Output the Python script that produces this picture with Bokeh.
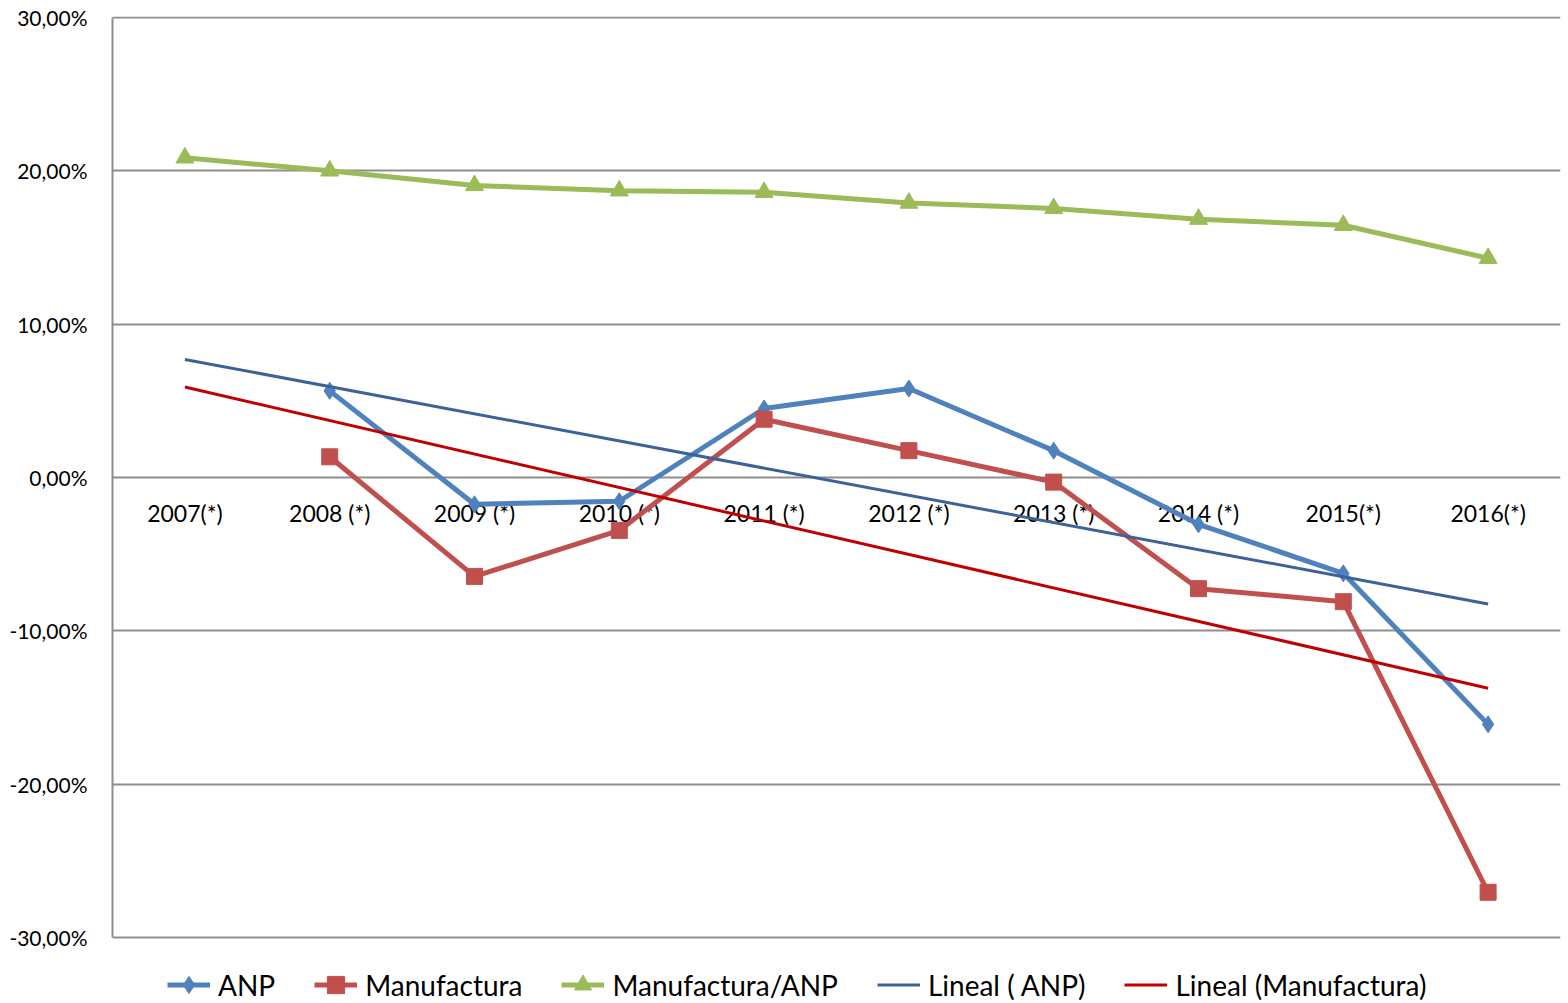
from bokeh.plotting import figure
from bokeh.models import Range1d, FactorRange, FixedTicker, Legend, LegendItem
from bokeh.core.properties import value
from bokeh.embed import file_html
from bokeh.resources import INLINE

# ---- data (percent) ----
years = ["2007(*)", "2008 (*)", "2009 (*)", "2010 (*)", "2011 (*)",
         "2012 (*)", "2013 (*)", "2014 (*)", "2015(*)", "2016(*)"]
anp_years = years[1:]
anp = [5.65, -1.75, -1.55, 4.5, 5.8, 1.75, -3.05, -6.25, -16.1]
manuf_years = years[1:]
manuf = [1.35, -6.45, -3.45, 3.8, 1.75, -0.3, -7.25, -8.1, -27.05]
ratio = [20.85, 20.0, 19.05, 18.7, 18.6, 17.9, 17.55, 16.85, 16.45, 14.3]
trend_years = [years[0], years[-1]]
trend_anp = [7.7, -8.25]
trend_manuf = [5.9, -13.75]
y_ticks = [-30, -20, -10, 0, 10, 20, 30]
y_labels = ["-30,00%", "-20,00%", "-10,00%", "0,00%", "10,00%", "20,00%", "30,00%"]
axis_cross = [0] * len(years)

FONT = "Lato"
GRID = "#8E8E8E"
BLUE = "#4F81BD"
RED = "#C0504D"
GREEN = "#9BBB59"
TBLUE = "#3C6399"
TRED = "#C00000"

W, H = 1566, 1001
TOP, LEFT, RIGHT = 16, 112, 6
PX_PER_UNIT = 920 / 60.0
y_top = 30 + 1 / PX_PER_UNIT
y_bottom = -30 - (H - 937) / PX_PER_UNIT

p = figure(x_range=FactorRange(*years), y_range=Range1d(y_bottom, y_top),
           width=W, height=H, output_backend="svg", toolbar_location=None,
           x_axis_location=None,
           min_border_left=LEFT, min_border_right=RIGHT, min_border_top=TOP,
           min_border_bottom=0)
p.outline_line_color = None
p.background_fill_color = "white"
p.border_fill_color = "white"

# y axis
p.yaxis.ticker = FixedTicker(ticks=y_ticks)
p.yaxis.bounds = (y_ticks[0], y_ticks[-1])
p.yaxis.major_label_overrides = dict(zip(y_ticks, y_labels))
p.yaxis.axis_line_color = GRID
p.yaxis.axis_line_width = 2
p.yaxis.major_tick_line_color = None
p.yaxis.major_tick_out = 0
p.yaxis.major_tick_in = 0
p.yaxis.minor_tick_line_color = None
p.yaxis.minor_tick_out = 0
p.yaxis.major_label_standoff = 25
p.yaxis.major_label_text_font = FONT
p.yaxis.major_label_text_font_size = "21px"
p.yaxis.major_label_text_color = "black"

p.ygrid.ticker = FixedTicker(ticks=y_ticks)
p.ygrid.grid_line_color = GRID
p.ygrid.grid_line_width = 2
p.xgrid.visible = False

# category labels sitting just under the zero line
p.text(x=years, y=axis_cross, text=years, y_offset=35,
       text_align="center", text_baseline="middle",
       text_font=value(FONT), text_font_size="23px", text_color="black")

# series
l_anp = p.line(anp_years, anp, line_color=BLUE, line_width=5)
m_anp = p.scatter(anp_years, anp, marker="diamond", size=17,
                  fill_color=BLUE, line_color=BLUE)
l_man = p.line(manuf_years, manuf, line_color=RED, line_width=5)
m_man = p.scatter(manuf_years, manuf, marker="square", size=16,
                  fill_color=RED, line_color=RED)
l_rat = p.line(years, ratio, line_color=GREEN, line_width=5)
m_rat = p.scatter(years, ratio, marker="triangle", size=18,
                  fill_color=GREEN, line_color=GREEN)
l_ta = p.line(trend_years, trend_anp, line_color=TBLUE, line_width=3)
l_tm = p.line(trend_years, trend_manuf, line_color=TRED, line_width=3)

legend = Legend(items=[
    LegendItem(label="ANP", renderers=[l_anp, m_anp]),
    LegendItem(label="Manufactura", renderers=[l_man, m_man]),
    LegendItem(label="Manufactura/ANP", renderers=[l_rat, m_rat]),
    LegendItem(label="Lineal ( ANP)", renderers=[l_ta]),
    LegendItem(label="Lineal (Manufactura)", renderers=[l_tm]),
], location=(55, -6), orientation="horizontal",
    glyph_width=43, glyph_height=45, label_standoff=8, spacing=39,
    padding=0, margin=0, border_line_color=None, background_fill_alpha=0,
    label_text_font=FONT, label_text_font_size="28px", label_height=45,
    label_text_color="black")
p.add_layout(legend)

open("out.html", "w").write(file_html(p, INLINE))
